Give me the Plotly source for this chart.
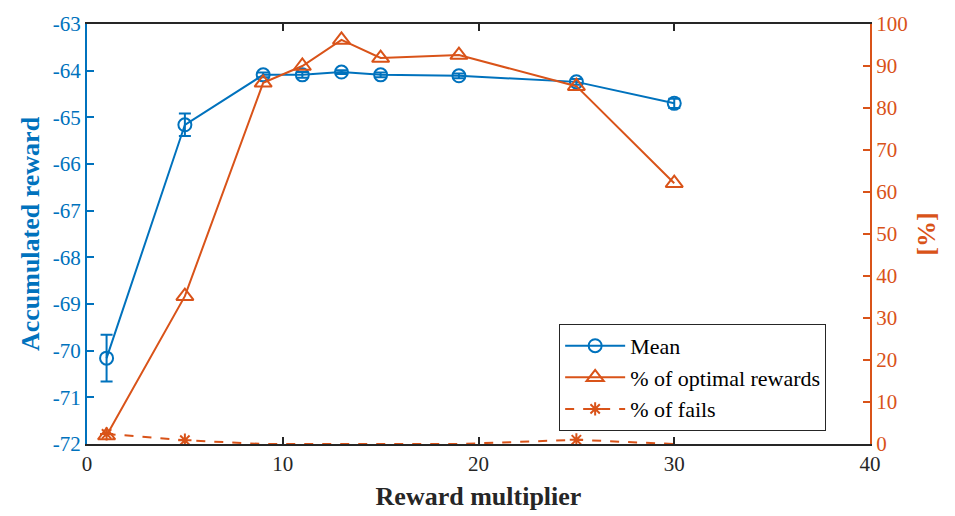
import plotly.graph_objects as go

x = [1, 5, 9, 11, 13, 15, 19, 25, 30]
mean_reward = [-70.16, -65.16, -64.09, -64.09, -64.03, -64.09, -64.11, -64.24, -64.70]
mean_err = [0.50, 0.24, 0.05, 0.06, 0.04, 0.05, 0.05, 0.06, 0.10]
optimal_pct = [2.0, 35.2, 86.0, 90.0, 96.2, 91.9, 92.6, 85.2, 62.1]
fails_pct = [2.4, 0.9, 0.0, 0.0, 0.0, 0.0, 0.0, 1.0, 0.0]

left_ticks = list(range(-72, -62))
left_ticktext = ["-" + str(abs(v)) for v in left_ticks]

blue = "#0072BD"
orange = "#D95319"
font = '"Liberation Serif", "Times New Roman", Times, serif'

# markers sitting exactly on the lower axis are hidden by the axis (as in the original)
fx = [xi for xi, v in zip(x, fails_pct) if v > 0]
fy = [v for v in fails_pct if v > 0]

fig = go.Figure()
fig.add_trace(go.Scatter(
    x=x, y=mean_reward, name="Mean", mode="lines+markers",
    line=dict(color=blue, width=2),
    marker=dict(symbol="circle-open", size=13, color=blue, line=dict(width=2)),
    error_y=dict(type="data", array=mean_err, color=blue, thickness=2, width=6),
    yaxis="y",
))
fig.add_trace(go.Scatter(
    x=x, y=optimal_pct, name="% of optimal rewards", mode="lines+markers",
    line=dict(color=orange, width=2),
    marker=dict(symbol="triangle-up-open", size=15, color=orange, line=dict(width=2)),
    yaxis="y2",
))
fig.add_trace(go.Scatter(
    x=x, y=fails_pct, mode="lines", showlegend=False,
    line=dict(color=orange, width=2, dash="dash"), yaxis="y2",
))
fig.add_trace(go.Scatter(
    x=fx, y=fy, mode="markers", showlegend=False,
    marker=dict(symbol="asterisk-open", size=11, color=orange, line=dict(width=2, color=orange)),
    yaxis="y2",
))
fig.add_trace(go.Scatter(
    x=[None], y=[None], name="% of fails", mode="lines+markers",
    line=dict(color=orange, width=2, dash="dash"),
    marker=dict(symbol="asterisk-open", size=11, color=orange, line=dict(width=2, color=orange)),
    yaxis="y2",
))

fig.update_layout(
    width=955, height=516,
    margin=dict(l=87, r=85, t=24, b=72),
    paper_bgcolor="white", plot_bgcolor="white",
    font=dict(family=font, size=20, color="#262626"),
    showlegend=True,
    legend=dict(
        x=0.603, y=0.286, xanchor="left", yanchor="top",
        bordercolor="#262626", borderwidth=1, bgcolor="white",
        font=dict(family=font, size=22, color="#000000"),
        tracegroupgap=0, itemwidth=60,
    ),
    xaxis=dict(
        range=[0, 40], tickvals=[0, 10, 20, 30, 40], automargin=False,
        ticks="inside", ticklen=7, tickwidth=1.5, tickcolor="#262626",
        showline=True, linecolor="#262626", linewidth=2, mirror="ticks",
        showgrid=False, zeroline=False,
        title=dict(text="<b>Reward multiplier</b>", font=dict(family=font, size=26, color="#262626"), standoff=12),
        tickfont=dict(family=font, size=21, color="#262626"),
    ),
    yaxis=dict(
        range=[-72, -63], tickvals=left_ticks, ticktext=left_ticktext, automargin=False,
        ticks="inside", ticklen=7, tickwidth=1.5, tickcolor=blue,
        showline=True, linecolor=blue, linewidth=2,
        showgrid=False, zeroline=False,
        title=dict(text="<b>Accumulated reward</b>", font=dict(family=font, size=26, color=blue), standoff=6),
        tickfont=dict(family=font, size=21, color=blue),
    ),
    yaxis2=dict(
        range=[0, 100], dtick=10, overlaying="y", side="right", automargin=False,
        ticks="inside", ticklen=7, tickwidth=1.5, tickcolor=orange,
        showline=True, linecolor=orange, linewidth=2,
        showgrid=False, zeroline=False,
        title=dict(text="<b>[%]</b>", font=dict(family=font, size=26, color=orange), standoff=10),
        tickfont=dict(family=font, size=21, color=orange),
    ),
)

fig.write_html("out.html")
